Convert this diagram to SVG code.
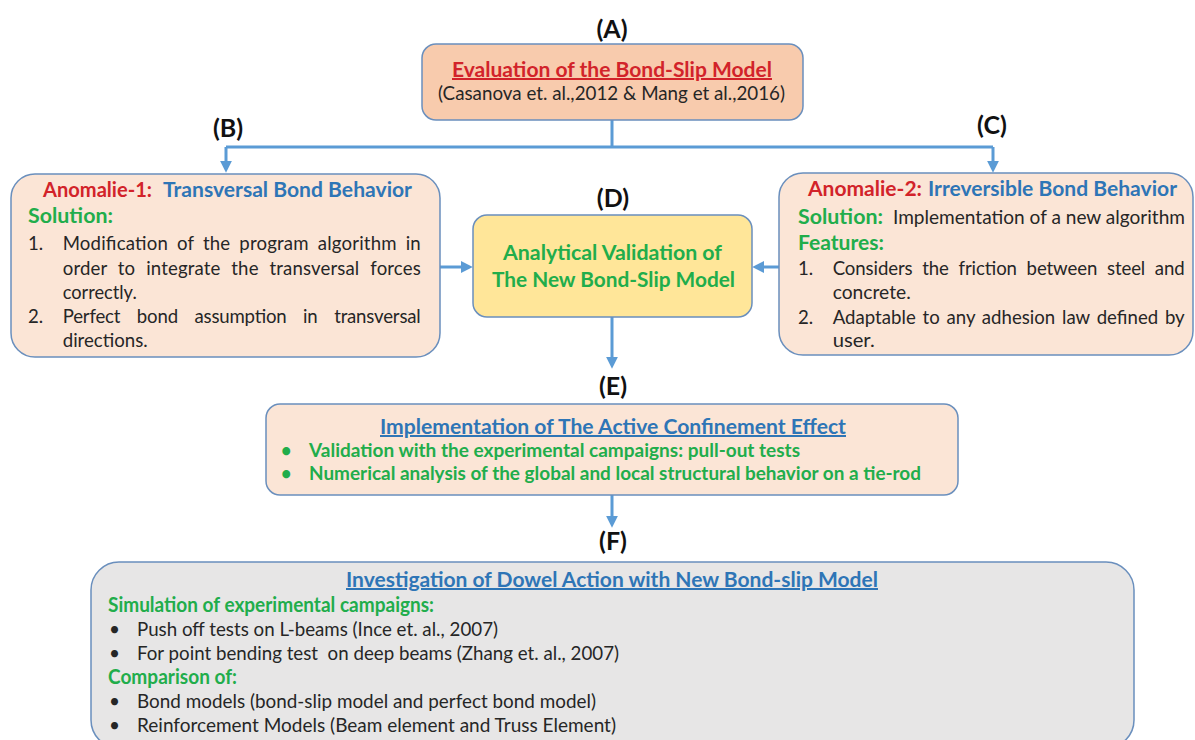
<svg xmlns="http://www.w3.org/2000/svg" width="1195" height="740" viewBox="0 0 1195 740">
<defs>
<marker id="ah" viewBox="0 0 10 10" markerWidth="12" markerHeight="12" refX="6" refY="5" orient="auto" markerUnits="userSpaceOnUse">
<path d="M0,0 L10,5 L0,10 z" fill="#5b9bd5"/>
</marker>
<style>
text{font-family:Lato,"Liberation Sans",sans-serif;}
.box{stroke:#6a8fbd;stroke-width:1.5;}
.lbl{font-size:25px;font-weight:bold;fill:#111;text-anchor:middle;}
.b{font-weight:bold;}
.red{fill:#d2232a;}
.blue{fill:#2e75b6;}
.green{fill:#21ad4b;}
.body{fill:#262626;font-size:19px;}
.jb{fill:#262626;font-size:18.6px;}
.ttl{font-size:20px;font-weight:bold;}
.u{text-decoration:underline;}
.con{fill:none;stroke:#5b9bd5;stroke-width:3;}
</style>
</defs>
<rect width="1195" height="740" fill="#ffffff"/>

<g id="connectors">
<path class="con" d="M612,120 V147"/>
<path class="con" d="M226,147 H993"/>
<path class="con" d="M226,147 V168" marker-end="url(#ah)"/>
<path class="con" d="M993,147 V168" marker-end="url(#ah)"/>
<path class="con" d="M440,267 H468" marker-end="url(#ah)"/>
<path class="con" d="M779,267 H757" marker-end="url(#ah)"/>
<path class="con" d="M612,317 V364" marker-end="url(#ah)"/>
<path class="con" d="M612,495 V523" marker-end="url(#ah)"/>
</g>

<g id="label-A"><text class="lbl" x="612" y="38">(A)</text></g>
<g id="label-B"><text class="lbl" x="228" y="137">(B)</text></g>
<g id="label-C"><text class="lbl" x="992" y="134">(C)</text></g>
<g id="label-D"><text class="lbl" x="613" y="207">(D)</text></g>
<g id="label-E"><text class="lbl" x="613" y="395">(E)</text></g>
<g id="label-F"><text class="lbl" x="613" y="550">(F)</text></g>

<g id="node-A">
<rect class="box" x="422" y="44" width="381" height="76" rx="14" fill="#f8cbad"/>
<text class="ttl red u" x="452" y="77" textLength="320" lengthAdjust="spacingAndGlyphs">Evaluation of the Bond-Slip Model</text>
<text class="body" x="438" y="100" font-size="18" textLength="347" lengthAdjust="spacingAndGlyphs">(Casanova et. al.,2012 &amp; Mang et al.,2016)</text>
</g>

<g id="node-B">
<rect class="box" x="11" y="174" width="429" height="183" rx="24" fill="#fbe5d6"/>
<text class="ttl red" x="43" y="197" textLength="109" lengthAdjust="spacingAndGlyphs">Anomalie-1:</text>
<text class="ttl blue" x="163" y="197" textLength="249" lengthAdjust="spacingAndGlyphs">Transversal Bond Behavior</text>
<text class="ttl green" x="28" y="223" textLength="85" lengthAdjust="spacingAndGlyphs">Solution:</text>
<text class="jb" x="28" y="250">1.</text>
<text class="jb" x="62.7" y="250" style="word-spacing:4px" textLength="358" lengthAdjust="spacing">Modification of the program algorithm in</text>
<text class="jb" x="62.7" y="274.5" style="word-spacing:6px" textLength="358" lengthAdjust="spacing">order to integrate the transversal forces</text>
<text class="jb" x="62.7" y="298.5" textLength="74" lengthAdjust="spacingAndGlyphs">correctly.</text>
<text class="jb" x="28" y="323">2.</text>
<text class="jb" x="62.7" y="323" style="word-spacing:12px" textLength="358" lengthAdjust="spacing">Perfect bond assumption in transversal</text>
<text class="jb" x="62.7" y="347" textLength="85" lengthAdjust="spacingAndGlyphs">directions.</text>
</g>

<g id="node-D">
<rect class="box" x="473" y="215" width="279" height="102" rx="14" fill="#ffe699"/>
<text class="green b" x="503" y="260" font-size="21" textLength="219" lengthAdjust="spacingAndGlyphs">Analytical Validation of</text>
<text class="green b" x="492" y="287" font-size="21" textLength="243" lengthAdjust="spacingAndGlyphs">The New Bond-Slip Model</text>
</g>

<g id="node-C">
<rect class="box" x="779" y="173" width="414" height="182" rx="24" fill="#fbe5d6"/>
<text class="ttl red" x="808" y="196" textLength="114" lengthAdjust="spacingAndGlyphs">Anomalie-2:</text>
<text class="ttl blue" x="928" y="196" textLength="249" lengthAdjust="spacingAndGlyphs">Irreversible Bond Behavior</text>
<text class="ttl green" x="798" y="224" textLength="85" lengthAdjust="spacingAndGlyphs">Solution:</text>
<text class="body" x="893" y="224" textLength="292" lengthAdjust="spacingAndGlyphs">Implementation of a new algorithm</text>
<text class="ttl green" x="798" y="250" textLength="86" lengthAdjust="spacingAndGlyphs">Features:</text>
<text class="jb" x="798" y="275">1.</text>
<text class="jb" x="832.7" y="275" style="word-spacing:5px" textLength="352" lengthAdjust="spacing">Considers the friction between steel and</text>
<text class="jb" x="832.7" y="299" textLength="78" lengthAdjust="spacingAndGlyphs">concrete.</text>
<text class="jb" x="798" y="323.5">2.</text>
<text class="jb" x="832.7" y="323.5" style="word-spacing:2px" textLength="352" lengthAdjust="spacing">Adaptable to any adhesion law defined by</text>
<text class="jb" x="832.7" y="347" textLength="42" lengthAdjust="spacingAndGlyphs">user.</text>
</g>

<g id="node-E">
<rect class="box" x="266" y="404" width="692" height="91" rx="14" fill="#fbe5d6"/>
<text class="ttl blue u" x="380" y="434" textLength="466" lengthAdjust="spacingAndGlyphs">Implementation of The Active Confinement Effect</text>
<text class="green b" x="281" y="457" font-size="18">•</text>
<text class="green b" x="309" y="457" font-size="18" textLength="491" lengthAdjust="spacingAndGlyphs">Validation with the experimental campaigns: pull-out tests</text>
<text class="green b" x="281" y="480" font-size="18">•</text>
<text class="green b" x="309" y="480" font-size="18" textLength="612" lengthAdjust="spacingAndGlyphs">Numerical analysis of the global and local structural behavior on a tie-rod</text>
</g>

<g id="node-F">
<rect class="box" x="91" y="562" width="1043" height="186" rx="28" fill="#e7e6e6"/>
<text class="ttl blue u" x="346" y="587" textLength="532" lengthAdjust="spacingAndGlyphs">Investigation of Dowel Action with New Bond-slip Model</text>
<text class="ttl green" x="108" y="612" font-size="19" textLength="326" lengthAdjust="spacingAndGlyphs">Simulation of experimental campaigns:</text>
<text class="body" x="109" y="636">•</text>
<text class="body" x="137" y="636" textLength="361" lengthAdjust="spacingAndGlyphs">Push off tests on L-beams (Ince et. al., 2007)</text>
<text class="body" x="109" y="660">•</text>
<text class="body" x="137" y="660" style="white-space:pre" textLength="482" lengthAdjust="spacingAndGlyphs">For point bending test  on deep beams (Zhang et. al., 2007)</text>
<text class="ttl green" x="108" y="684" font-size="19" textLength="129" lengthAdjust="spacingAndGlyphs">Comparison of:</text>
<text class="body" x="109" y="708">•</text>
<text class="body" x="137" y="708" textLength="459" lengthAdjust="spacingAndGlyphs">Bond models (bond-slip model and perfect bond model)</text>
<text class="body" x="109" y="732">•</text>
<text class="body" x="137" y="732" textLength="479" lengthAdjust="spacingAndGlyphs">Reinforcement Models (Beam element and Truss Element)</text>
</g>
</svg>
